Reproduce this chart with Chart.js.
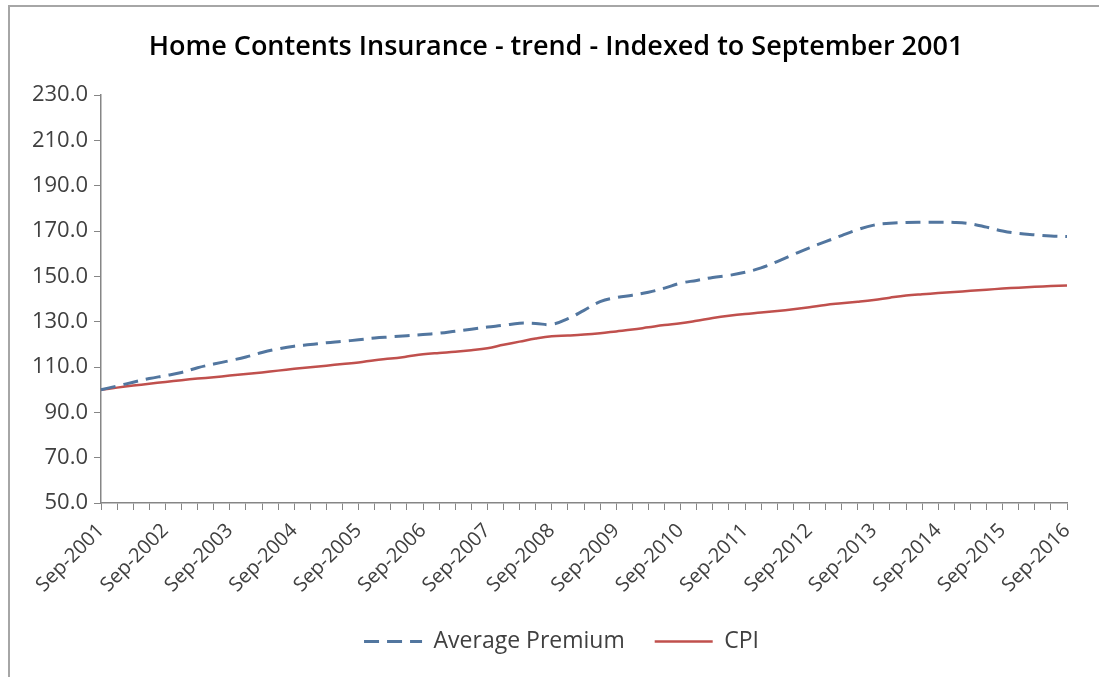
<!DOCTYPE html>
<html>
<head>
<meta charset="utf-8">
<script src="https://cdn.jsdelivr.net/npm/chart.js@4.4.1/dist/chart.umd.min.js"></script>
<style>
  html, body { margin: 0; padding: 0; background: #fff; }
  #wrap { position: relative; width: 1099px; height: 677px; }
</style>
</head>
<body>
<div id="wrap"><canvas id="chart" width="1099" height="677"></canvas></div>
<script>
// quarterly, Sep-2001 .. Sep-2016
var years = [2001, 2002, 2003, 2004, 2005, 2006, 2007, 2008, 2009, 2010, 2011, 2012, 2013, 2014, 2015, 2016];
var quarterMonths = ['Sep', 'Dec', 'Mar', 'Jun'];

var averagePremium = [
  100.0, 101.6, 103.3, 104.9, 106.2, 107.6, 109.7, 111.3,
  112.8, 114.4, 116.4, 118.0, 119.2, 119.9, 120.7, 121.3,
  122.0, 122.8, 123.3, 123.8, 124.3, 124.9, 125.8, 126.7,
  127.6, 128.4, 129.3, 129.2, 128.8, 131.3, 135.0, 138.8,
  140.6, 141.7, 143.0, 144.8, 147.0, 148.2, 149.5, 150.4,
  151.8, 153.7, 156.5, 159.6, 162.6, 165.3, 168.0, 170.6,
  172.6, 173.4, 173.8, 173.9, 173.9, 173.8, 173.2, 171.7,
  170.0, 168.9, 168.3, 167.8, 167.6
];

var cpi = [
  100.0, 100.9, 101.8, 102.6, 103.4, 104.2, 104.9, 105.5,
  106.2, 106.9, 107.6, 108.4, 109.2, 109.9, 110.6, 111.3,
  112.0, 113.0, 113.7, 114.6, 115.6, 116.2, 116.7, 117.4,
  118.3, 119.8, 121.2, 122.6, 123.6, 123.9, 124.3, 124.9,
  125.7, 126.5, 127.5, 128.5, 129.3, 130.4, 131.6, 132.6,
  133.4, 134.0, 134.7, 135.5, 136.4, 137.4, 138.1, 138.8,
  139.6, 140.6, 141.5, 142.1, 142.6, 143.1, 143.6, 144.1,
  144.6, 145.0, 145.4, 145.7, 146.0
];

var yTicks = [50, 70, 90, 110, 130, 150, 170, 190, 210, 230];

var chartTitle = 'Home Contents Insurance - trend - Indexed to September 2001';

// Dec belongs to the same year as Sep, Mar/Jun to the next one
var labels = [];
for (var i = 0; i < averagePremium.length; i++) {
  var y = years[0] + Math.floor(i / 4) + (i % 4 >= 2 ? 1 : 0);
  labels.push(quarterMonths[i % 4] + '-' + y);
}

var fontFamily = "'Open Sans', Lato, sans-serif";
var axisGrey = '#868686';
var textGrey = '#404040';
var premiumDash = [15, 8];

// outer frame + title (title drawn here so it can be centred like Excel)
var frame = {
  id: 'frame',
  beforeDraw: function (chart) {
    var c = chart.ctx;
    c.save();
    c.fillStyle = '#fff';
    c.fillRect(0, 0, chart.width, chart.height);
    c.strokeStyle = '#a6a6a6';
    c.lineWidth = 2;
    c.beginPath();
    c.moveTo(9, chart.height);
    c.lineTo(9, 6);
    c.lineTo(chart.width, 6);
    c.stroke();
    c.restore();
  },
  afterLayout: function (chart) {
    // legend is centred on the whole chart box in Excel, nudge it right
    if (chart.legend) {
      chart.legend.left += 28;
      chart.legend.right += 28;
    }
  },
  afterDraw: function (chart) {
    var c = chart.ctx;
    c.save();
    c.fillStyle = '#000';
    c.font = '600 27px ' + fontFamily;
    c.textAlign = 'center';
    c.textBaseline = 'middle';
    c.fillText(chartTitle, 556, 47);
    c.restore();
  }
};

new Chart(document.getElementById('chart'), {
  type: 'line',
  data: {
    labels: labels,
    datasets: [{
      label: 'Average Premium',
      data: averagePremium,
      borderColor: '#52769f',
      backgroundColor: '#52769f',
      borderWidth: 3,
      borderDash: premiumDash,
      pointRadius: 0,
      pointStyle: 'line',
      tension: 0.4
    }, {
      label: 'CPI',
      data: cpi,
      borderColor: '#c0504d',
      backgroundColor: '#c0504d',
      borderWidth: 2.5,
      pointRadius: 0,
      pointStyle: 'line',
      tension: 0.4
    }]
  },
  options: {
    responsive: false,
    animation: false,
    layout: { padding: { left: 0, right: 32, top: 95, bottom: 14 } },
    plugins: {
      title: { display: false },
      legend: {
        position: 'bottom',
        labels: {
          usePointStyle: true,
          pointStyleWidth: 58,
          boxHeight: 10,
          color: textGrey,
          font: { family: fontFamily, size: 23 },
          padding: 30,
          generateLabels: function (chart) {
            var items = Chart.defaults.plugins.legend.labels.generateLabels(chart);
            items.forEach(function (it, k) {
              var ds = chart.data.datasets[k];
              it.lineWidth = ds.borderWidth;
              it.strokeStyle = ds.borderColor;
              it.lineDash = ds.borderDash || [];
            });
            return items;
          }
        }
      },
      tooltip: { enabled: false }
    },
    scales: {
      x: {
        grid: { display: true, drawOnChartArea: false, color: axisGrey, tickLength: 7 },
        border: { color: axisGrey, width: 1.5 },
        afterFit: function (s) { s.height = 97; },
        ticks: {
          autoSkip: false,
          maxRotation: 45,
          minRotation: 45,
          color: textGrey,
          font: { family: fontFamily, size: 20 },
          padding: 9,
          callback: function (v, i) { return i % 4 === 0 ? labels[i] : ''; }
        }
      },
      y: {
        min: yTicks[0],
        max: yTicks[yTicks.length - 1],
        afterBuildTicks: function (s) { s.ticks = yTicks.map(function (v) { return { value: v }; }); },
        afterFit: function (s) { s.width = 101; },
        grid: { display: true, drawOnChartArea: false, color: axisGrey, tickLength: 7 },
        border: { color: axisGrey, width: 1.5 },
        ticks: {
          color: textGrey,
          font: { family: fontFamily, size: 22 },
          padding: 6,
          callback: function (v) { return Number(v).toFixed(1); }
        }
      }
    }
  },
  plugins: [frame]
});
</script>
</body>
</html>
